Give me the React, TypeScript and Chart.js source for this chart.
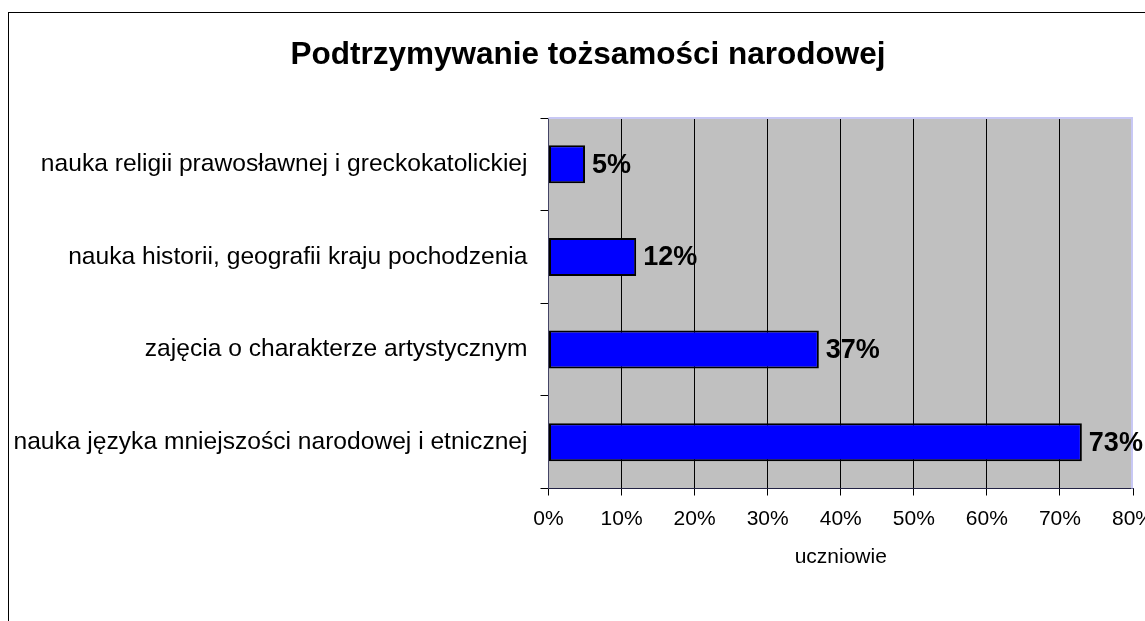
import React, { useEffect, useRef } from "react";
import { Chart, registerables } from "chart.js";

Chart.register(...registerables);

const TITLE = "Podtrzymywanie tożsamości narodowej";
const AXIS_TITLE = "uczniowie";
const categories = [
  "nauka religii prawosławnej i greckokatolickiej",
  "nauka historii, geografii kraju pochodzenia",
  "zajęcia o charakterze artystycznym",
  "nauka języka mniejszości narodowej i etnicznej",
];
const values = [5, 12, 37, 73];
const xMin = 0;
const xMax = 80;
const xStep = 10;

const FONT = "'Liberation Sans', Arial, sans-serif";

const plotBg = {
  id: "plotBg",
  beforeDraw(chart: any) {
    const { ctx, chartArea } = chart;
    const { left, top, right, bottom } = chartArea;
    ctx.save();
    ctx.fillStyle = "#C0C0C0";
    ctx.fillRect(left, top, right - left, bottom - top);
    ctx.restore();
  },
  beforeDatasetsDraw(chart: any) {
    const { ctx, chartArea } = chart;
    const { left, top, right, bottom } = chartArea;
    ctx.save();
    ctx.strokeStyle = "#C8C8F4";
    ctx.lineWidth = 2;
    ctx.beginPath();
    ctx.moveTo(left, top);
    ctx.lineTo(right - 1, top);
    ctx.lineTo(right - 1, bottom);
    ctx.stroke();
    ctx.restore();
  },
};

const titlePlugin = {
  id: "titlePlugin",
  afterDraw(chart: any) {
    const { ctx } = chart;
    ctx.save();
    ctx.font = `bold 31.5px ${FONT}`;
    ctx.fillStyle = "#000";
    ctx.textAlign = "center";
    ctx.textBaseline = "middle";
    ctx.fillText(TITLE, 579, 42);
    ctx.restore();
  },
};

const barLabels = {
  id: "barLabels",
  afterDatasetsDraw(chart: any) {
    const { ctx } = chart;
    const meta = chart.getDatasetMeta(0);
    ctx.save();
    ctx.font = `bold 27px ${FONT}`;
    ctx.fillStyle = "#000";
    ctx.textAlign = "left";
    ctx.textBaseline = "middle";
    meta.data.forEach((el: any, i: number) => {
      ctx.fillText(`${values[i]}%`, el.x + 7, el.y + 1);
    });
    ctx.restore();
  },
};

export default function App() {
  const ref = useRef<HTMLCanvasElement | null>(null);

  useEffect(() => {
    document.body.style.overflow = "hidden";
    const canvas = ref.current;
    if (!canvas) return;
    const chart = new Chart(canvas, {
      type: "bar",
      data: {
        labels: categories,
        datasets: [
          {
            data: values,
            backgroundColor: "#0000FF",
            borderColor: "#000000",
            borderWidth: 2,
            borderSkipped: false,
            categoryPercentage: 1,
            barPercentage: 0.41,
          },
        ],
      },
      options: {
        indexAxis: "y",
        responsive: false,
        animation: false,
        layout: { padding: { right: 52, left: 0, top: 105, bottom: 0 } },
        plugins: {
          legend: { display: false },
          tooltip: { enabled: false },
          title: { display: false },
        },
        scales: {
          x: {
            type: "linear",
            min: xMin,
            max: xMax,
            ticks: {
              stepSize: xStep,
              color: "#000",
              font: { family: FONT, size: 21 },
              padding: 11,
              callback: (v: any) => `${v}%`,
            },
            grid: {
              color: (c: any) => (c.tick && c.tick.value === xMax ? "transparent" : "#000"),
              lineWidth: 1,
              drawTicks: true,
              tickLength: 7,
              tickColor: "#000",
            },
            border: { display: true, color: "#222244", width: 1 },
            title: {
              display: true,
              text: AXIS_TITLE,
              color: "#000",
              font: { family: FONT, size: 21 },
              padding: { top: 0, bottom: 81 },
            },
            afterFit: (scale: any) => {
              scale.height = 162.5;
            },
          },
          y: {
            type: "category",
            offset: true,
            ticks: {
              color: "#000",
              font: { family: FONT, size: 24.6 },
              padding: 13,
            },
            grid: {
              offset: true,
              drawOnChartArea: false,
              drawTicks: true,
              tickLength: 8,
              tickColor: "#000",
              color: "#000",
            },
            border: { display: true, color: "#444466", width: 1 },
            afterFit: (scale: any) => {
              scale.width = 539.5;
            },
          },
        },
      },
      plugins: [plotBg, barLabels, titlePlugin],
    } as any);
    return () => chart.destroy();
  }, []);

  return (
    <div
      style={{
        position: "absolute",
        left: 8,
        top: 12,
        width: 1178,
        height: 640,
        border: "1px solid #000",
        boxSizing: "border-box",
        background: "#fff",
      }}
    >
      <canvas ref={ref} width={1176} height={638} style={{ display: "block" }} />
    </div>
  );
}
